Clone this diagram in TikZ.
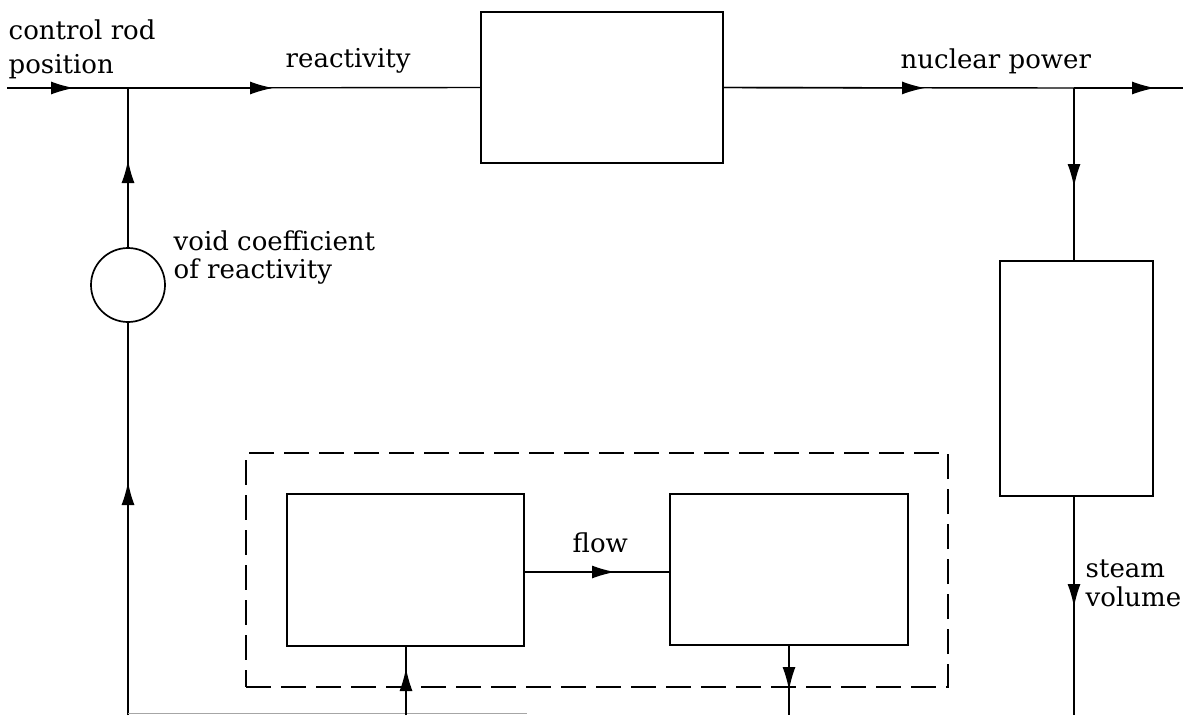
\documentclass[tikz,border=0pt]{standalone}
\usepackage{fontspec}
\setmainfont{DejaVu Serif}
\usetikzlibrary{arrows.meta}
\begin{document}
\begin{tikzpicture}[x=1pt,y=-1pt,line width=1.4pt,
  tip/.style={-{Latex[length=23pt,width=13pt]}},
  blk/.style={draw,line width=1.7pt,inner sep=0pt,outer sep=0pt},
  lbl/.style={anchor=base west,inner sep=0pt,font=\fontsize{26}{30}\selectfont}]
\useasboundingbox (0,0) rectangle (1193,715);
% blocks
\node[blk,minimum width=242pt,minimum height=151pt] (core) at (602,87.5) {};
\node[blk,minimum width=153pt,minimum height=235pt] (steam) at (1076.5,378.5) {};
\node[blk,circle,minimum size=74pt] (circ) at (128,285) {};
\node[draw,line width=1.9pt,dash pattern=on 25pt off 10pt,minimum width=702pt,minimum height=234pt,inner sep=0pt,outer sep=0pt] (dash) at (597,570) {};
\node[blk,minimum width=237pt,minimum height=152pt] (b1) at (405.5,570) {};
\node[blk,minimum width=238pt,minimum height=151pt] (b2) at (789,569.5) {};
% coordinates
\coordinate (in) at (7,88);
\coordinate (j1) at (128,88);
\coordinate (a1) at (74,88);
\coordinate (a2) at (273,88);
\coordinate (a3) at (925,88);
\coordinate (j2) at (1074,88);
\coordinate (a4) at (1155,88);
\coordinate (out) at (1183,88);
\coordinate (a5) at (1074,187);
\coordinate (st) at (1074,261);
\coordinate (sb) at (1074,496);
\coordinate (a6) at (1074,607);
\coordinate (send) at (1074,715);
\coordinate (a7) at (128,160);
\coordinate (a8) at (128,482);
\coordinate (bl) at (128,715);
\coordinate (blr) at (527,713);
\coordinate (bll) at (128,713);
\coordinate (i1) at (406,715);
\coordinate (a9) at (406,668);
\coordinate (b1s) at (406,646);
\coordinate (b2s) at (789,645);
\coordinate (a10) at (789,690);
\coordinate (o2) at (789,715);
\coordinate (a11) at (615,572);
\coordinate (f1) at (b1.east |- a11);
\coordinate (f2) at (b2.west |- a11);
% top line
\draw (in) -- (j1);   \draw[tip] (in) -- (a1);
\draw (j1) -- (core.west); \draw[tip] (j1) -- (a2);
\draw (core.east) -- (j2); \draw[tip] (core.east) -- (a3);
\draw (j2) -- (out);  \draw[tip] (j2) -- (a4);
% right branch
\draw (j2) -- (st);   \draw[tip] (j2) -- (a5);
\draw (sb) -- (send); \draw[tip] (sb) -- (a6);
% left feedback
\draw (bl) -- (circ.south); \draw[tip] (bl) -- (a8);
\draw (circ.north) -- (j1); \draw[tip] (circ.north) -- (a7);
\draw[line width=1pt,black!35] (bll) -- (blr);
% inner loop
\draw (f1) -- (f2); \draw[tip] (f1) -- (a11);
\draw (i1) -- (b1s); \draw[tip] (i1) -- (a9);
\draw (b2s) -- (o2); \draw[tip] (b2s) -- (a10);
% labels
\node[lbl] (l1) at (8,39) {control rod};
\node[lbl] (l2) at (8,73) {position};
\node[lbl] (l3) at (285,67) {reactivity};
\node[lbl] (l4) at (900,68) {nuclear power};
\node[lbl] (l5) at (173,250) {void coefficient};
\node[lbl] (l6) at (173,278) {of reactivity};
\node[lbl] (l7) at (572,552) {flow};
\node[lbl] (l8) at (1085,577) {steam};
\node[lbl] (l9) at (1085,606) {volume};
\end{tikzpicture}
\end{document}
